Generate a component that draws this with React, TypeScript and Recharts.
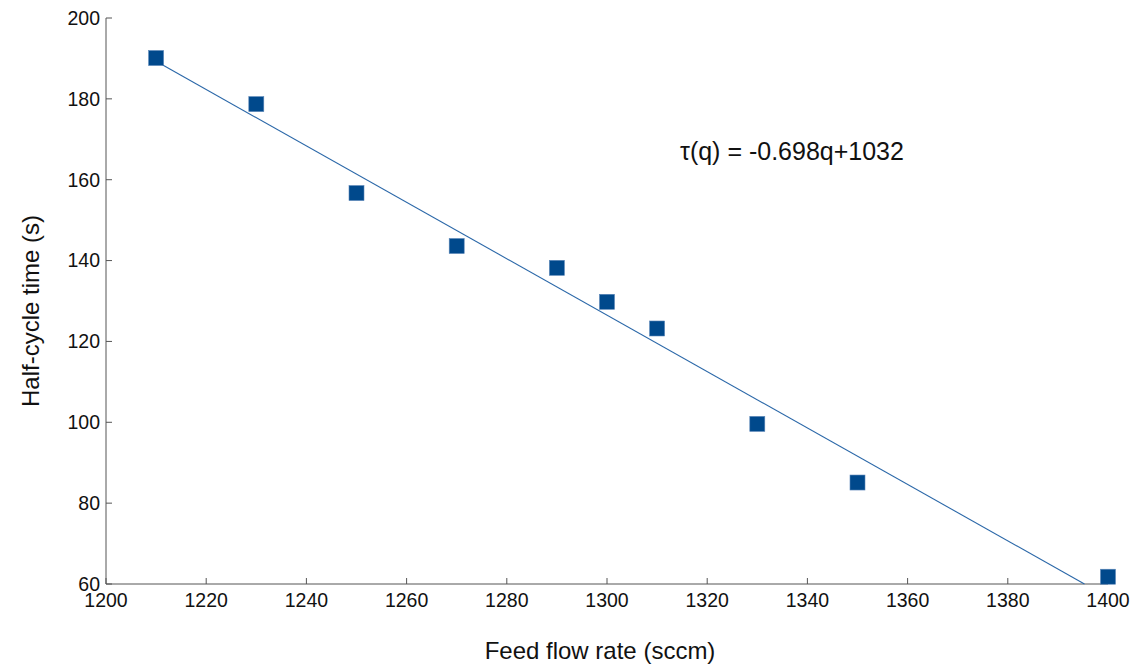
import { ComposedChart, Scatter, XAxis, YAxis, Label, ReferenceDot } from "recharts";

const flowRates = [1210, 1230, 1250, 1270, 1290, 1300, 1310, 1330, 1350, 1400];
const halfCycle = [190.1, 178.7, 156.7, 143.6, 138.2, 129.8, 123.2, 99.6, 85.1, 61.8];
const fitX = [1210, 1395.3];
const fitY = [189.3, 60];
const xTicks = [1200, 1220, 1240, 1260, 1280, 1300, 1320, 1340, 1360, 1380, 1400];
const yTicks = [60, 80, 100, 120, 140, 160, 180, 200];
const equation = "τ(q) = -0.698q+1032";

const points = flowRates.map((x, i) => ({ x, y: halfCycle[i] }));
const fit = fitX.map((x, i) => ({ x, y: fitY[i] }));

const FONT = "'Liberation Sans', Arial, sans-serif";
const AXIS = "#555";
const tickStyle = { fill: "#111", fontSize: 19.5, fontFamily: FONT };

const Square = (props: any) => (
  <rect x={props.cx - 7.5} y={props.cy - 7.5} width={15} height={15} fill="#00498c" stroke="#5a86b8" strokeWidth={0.6} />
);

export default function App() {
  return (
    <div style={{ position: "absolute", left: 0, top: 0, background: "#fff" }}>
      <ComposedChart width={1134} height={666} margin={{ top: 18, right: 26, bottom: 0, left: 0 }}>
        <XAxis
          type="number"
          dataKey="x"
          domain={[1200, 1400]}
          ticks={xTicks}
          height={82}
          tickSize={-6}
          tickMargin={15}
          tick={tickStyle}
          axisLine={{ stroke: AXIS }}
          tickLine={{ stroke: AXIS }}
        >
          <Label
            content={() => (
              <text x={600} y={659} textAnchor="middle" fontSize={24} fontFamily={FONT} fill="#111">
                Feed flow rate (sccm)
              </text>
            )}
          />
        </XAxis>
        <YAxis
          type="number"
          dataKey="y"
          domain={[60, 200]}
          ticks={yTicks}
          width={106}
          tickSize={-6}
          tickMargin={12}
          tick={tickStyle}
          axisLine={{ stroke: AXIS }}
          tickLine={{ stroke: AXIS }}
        >
          <Label
            content={() => (
              <text
                x={30}
                y={311}
                transform="rotate(-90, 30, 311)"
                textAnchor="middle"
                dominantBaseline="central"
                fontSize={24}
                fontFamily={FONT}
                fill="#111"
              >
                Half-cycle time (s)
              </text>
            )}
          />
        </YAxis>
        <Scatter
          data={fit}
          line={{ stroke: "#2a67a8", strokeWidth: 1.1 }}
          shape={() => <g />}
          isAnimationActive={false}
        />
        <Scatter data={points} shape={Square} isAnimationActive={false} />
        <ReferenceDot
          x={1314.6}
          y={167.1}
          r={0}
          fill="none"
          stroke="none"
          label={{
            content: () => (
              <text x={680} y={151} dominantBaseline="central" fontSize={25} fontFamily={FONT} fill="#111">
                {equation}
              </text>
            ),
          }}
        />
      </ComposedChart>
    </div>
  );
}
